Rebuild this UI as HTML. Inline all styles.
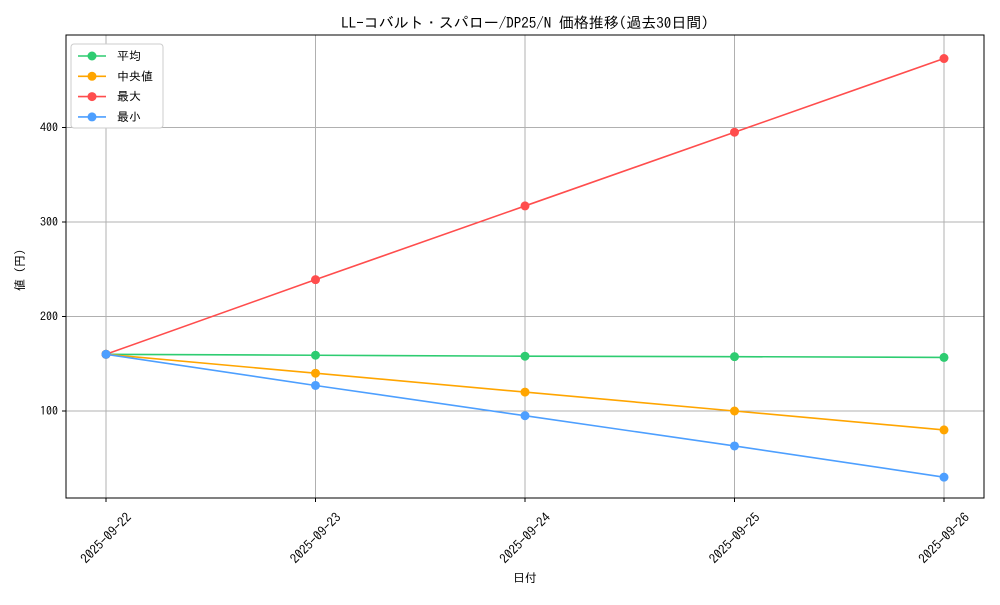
<!DOCTYPE html>
<html><head><meta charset="utf-8"><style>
body{margin:0;background:#fff;}
svg text{font-family:"IPAGothic","Noto Sans CJK JP",sans-serif;fill:#000;}
</style></head><body>
<svg id="chart" width="1000" height="600" xmlns="http://www.w3.org/2000/svg">
<rect width="1000" height="600" fill="#fff"/>
<text x="525" y="28" font-size="15" text-anchor="middle">LL-コバルト・スパロー/DP25/N 価格推移(過去30日間)</text>
<g id="grid"></g>
<g id="axes"></g>
<g id="series"></g>
<rect x="66" y="35" width="918" height="463" fill="none" stroke="#000" stroke-width="1"/>
<text x="525" y="582" font-size="12" text-anchor="middle">日付</text>
<text transform="translate(24,270) rotate(-90)" font-size="12" text-anchor="middle">値 (円)</text>
<g id="legend"></g>
</svg>
<script>
const dates=["2025-09-22","2025-09-23","2025-09-24","2025-09-25","2025-09-26"];
const avgVals=[160,159,158,157.5,156.7];
const medianVals=[160,140,120,100,80];
const maxVals=[160,239,317,395,473];
const minVals=[160,127,95,63,30];
const yTicks=[100,200,300,400];
const seriesNames=["平均","中央値","最大","最小"];
const seriesColors=["#2ecc71","#ffa500","#ff4d4d","#4d9fff"];
const NS="http://www.w3.org/2000/svg";
const x=i=>106+i*(944-106)/(dates.length-1);
const y=v=>505.5-v*0.945;
function mk(tag,attrs,parent){const e=document.createElementNS(NS,tag);for(const k in attrs)e.setAttribute(k,attrs[k]);parent.appendChild(e);return e;}
const grid=document.getElementById('grid'),axes=document.getElementById('axes'),ser=document.getElementById('series'),leg=document.getElementById('legend');
dates.forEach((d,i)=>{
 const l=mk('line',{x1:x(i),x2:x(i),y1:35,y2:498,stroke:'#b0b0b0','stroke-width':1},grid);
 
 
 const t=mk('line',{x1:x(i),x2:x(i),y1:498,y2:502,stroke:'#000'},axes);
 
 
 const tx=mk('text',{'font-size':13,'text-anchor':'middle',dy:'0.35em',transform:`translate(${x(i)},538) rotate(-45)`},axes);
 tx.textContent=d;
 
 
});
yTicks.forEach(v=>{
 const l=mk('line',{x1:66,x2:984,y1:y(v),y2:y(v),stroke:'#b0b0b0','stroke-width':1},grid);
 
 
 const t=mk('line',{x1:62,x2:66,y1:y(v),y2:y(v),stroke:'#000'},axes);
 
 
 const tx=mk('text',{x:58,y:y(v)+4,'font-size':12,'text-anchor':'end'},axes);
 tx.textContent=v;
 
 
});
const allSeries=[avgVals,medianVals,maxVals,minVals];
allSeries.forEach((vals,s)=>{
 const p=mk('polyline',{points:vals.map((v,i)=>x(i)+','+y(v)).join(' '),fill:'none',stroke:seriesColors[s],'stroke-width':1.6},ser);
 
 
 vals.forEach((v,i)=>{
  const c=mk('circle',{cx:x(i),cy:y(v),r:4.5,fill:seriesColors[s]},ser);
  
  
 });
});
const box=mk('rect',{x:71,y:44,width:92,height:84,rx:3,fill:'#fff',stroke:'#ccc'},leg);


seriesNames.forEach((n,s)=>{
 const yy=56+s*20.3;
 const g=mk('g',{},leg);
 
 
 mk('line',{x1:78,x2:106,y1:yy,y2:yy,stroke:seriesColors[s],'stroke-width':1.6},g);
 mk('circle',{cx:92,cy:yy,r:4.5,fill:seriesColors[s]},g);
 const t=mk('text',{x:117,y:yy+4,'font-size':12},g);
 t.textContent=n;
});
</script>
</body></html>
